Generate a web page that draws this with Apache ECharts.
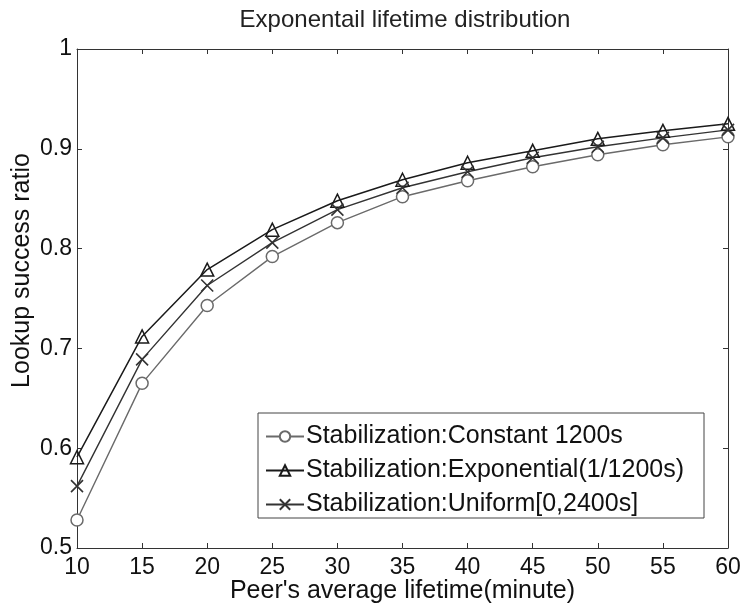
<!DOCTYPE html>
<html><head><meta charset="utf-8">
<script src="https://cdn.jsdelivr.net/npm/echarts@6/dist/echarts.min.js"></script>
<style>html,body{margin:0;padding:0;background:#fff}#c{width:743px;height:610px}</style>
</head><body><div id="c"></div>
<script>
const lifetimes = [10, 15, 20, 25, 30, 35, 40, 45, 50, 55, 60];
const constant1200 = [0.528, 0.665, 0.743, 0.792, 0.826, 0.852, 0.868, 0.882, 0.894, 0.904, 0.912];
const exponential1200 = [0.591, 0.712, 0.779, 0.819, 0.848, 0.869, 0.886, 0.898, 0.910, 0.918, 0.925];
const uniform2400 = [0.562, 0.689, 0.763, 0.806, 0.839, 0.861, 0.877, 0.891, 0.902, 0.911, 0.919];
const seriesNames = ['Stabilization:Constant 1200s', 'Stabilization:Exponential(1/1200s)', 'Stabilization:Uniform[0,2400s]'];

const font = 'Liberation Sans, Arial, sans-serif';
const pair = arr => lifetimes.map((x, i) => [x, arr[i]]);
const crossPath = 'path://M0,0L10,10M10,0L0,10';

const chart = echarts.init(document.getElementById('c'));
const axisCommon = {
  axisLine: {show: true, lineStyle: {color: '#333', width: 1}},
  axisTick: {show: true, inside: true, length: 5, lineStyle: {color: '#333'}},
  splitLine: {show: false}
};
chart.setOption({
  animation: false,
  backgroundColor: '#fff',
  title: {
    text: 'Exponentail lifetime distribution',
    left: 400, top: 3, textAlign: 'center',
    textStyle: {fontFamily: font, fontSize: 24, fontWeight: 'normal', color: '#222'}
  },
  grid: {left: 77, right: 15, top: 49, bottom: 62, containLabel: false, outerBoundsMode: 'none'},
  legend: {
    orient: 'vertical',
    left: 258, top: 413,
    padding: [11, 20, 1, 7],
    itemGap: 9,
    itemWidth: 38, itemHeight: 13,
    borderColor: '#444', borderWidth: 1,
    backgroundColor: '#fff',
    textStyle: {fontFamily: font, fontSize: 25, lineHeight: 25, color: '#111', padding: [0, 0, 0, -3]},
    data: seriesNames
  },
  xAxis: [
    Object.assign({
      type: 'value', min: 10, max: 60, interval: 5,
      name: "Peer's average lifetime(minute)", nameLocation: 'middle', nameGap: 31,
      nameMoveOverlap: false,
      nameTextStyle: {fontFamily: font, fontSize: 25, color: '#111'},
      axisLabel: {fontFamily: font, fontSize: 23, color: '#111', margin: 8}
    }, axisCommon),
    Object.assign({
      type: 'value', min: 10, max: 60, interval: 5, position: 'top',
      axisLabel: {show: false}
    }, axisCommon)
  ],
  yAxis: [
    Object.assign({
      type: 'value', min: 0.5, max: 1, interval: 0.1,
      name: 'Lookup success ratio', nameLocation: 'middle', nameGap: 42,
      nameMoveOverlap: false,
      nameTextStyle: {fontFamily: font, fontSize: 25, color: '#111', padding: [0, 0, 0, 56]},
      axisLabel: {fontFamily: font, fontSize: 23, color: '#111', margin: 5,
        formatter: v => (Math.round(v * 10) / 10).toString()}
    }, axisCommon),
    Object.assign({
      type: 'value', min: 0.5, max: 1, interval: 0.1, position: 'right',
      axisLabel: {show: false}
    }, axisCommon)
  ],
  series: [
    {
      name: seriesNames[0], type: 'line', data: pair(constant1200),
      symbol: 'circle', symbolSize: 12,
      lineStyle: {color: '#6a6a6a', width: 1.4},
      itemStyle: {color: '#fff', borderColor: '#6a6a6a', borderWidth: 1.5}
    },
    {
      name: seriesNames[1], type: 'line', data: pair(exponential1200),
      symbol: 'triangle', symbolSize: 13,
      lineStyle: {color: '#1a1a1a', width: 1.5},
      itemStyle: {color: 'rgba(255,255,255,0)', borderColor: '#1a1a1a', borderWidth: 1.5}
    },
    {
      name: seriesNames[2], type: 'line', data: pair(uniform2400),
      symbol: crossPath, symbolSize: 12,
      lineStyle: {color: '#333', width: 1.4},
      itemStyle: {color: 'rgba(255,255,255,0)', borderColor: '#333', borderWidth: 1.6}
    }
  ]
});
</script></body></html>
